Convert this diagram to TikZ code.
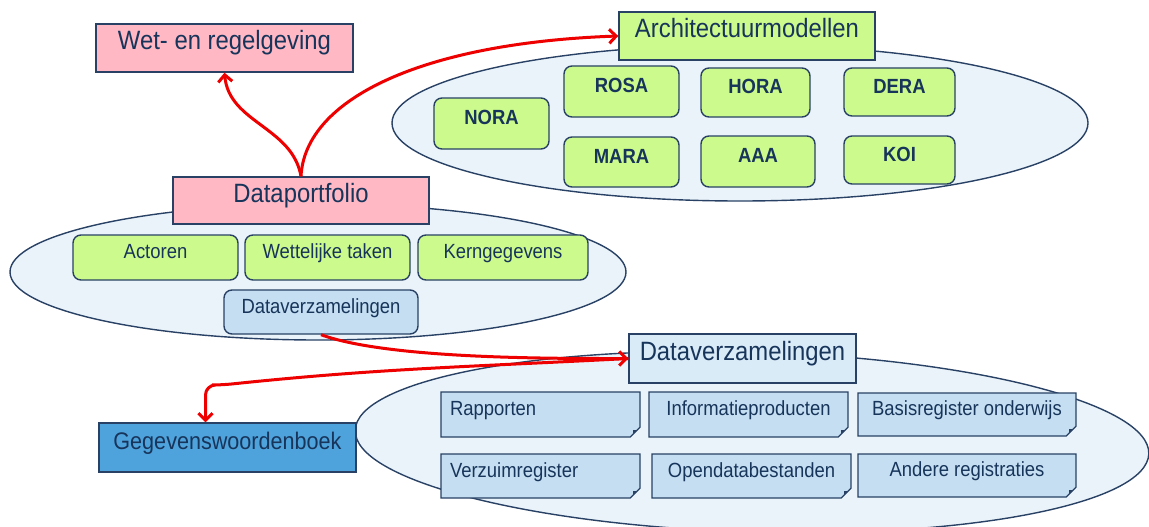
\documentclass[tikz,border=0pt]{standalone}
\usepackage{fontspec}
\setmainfont[FakeStretch=0.9]{Liberation Sans}
\usetikzlibrary{arrows.meta,shapes.misc}

\definecolor{linecol}{RGB}{40,65,100}
\definecolor{textcol}{RGB}{23,52,90}
\definecolor{pinkfill}{RGB}{255,184,196}
\definecolor{greenfill}{RGB}{205,250,140}
\definecolor{notefill}{RGB}{197,222,242}
\definecolor{dvfill}{RGB}{218,235,248}
\definecolor{wbfill}{RGB}{79,163,220}
\definecolor{ellfill}{RGB}{234,243,250}
\definecolor{arrowred}{RGB}{238,0,0}

\begin{document}
\begin{tikzpicture}[x=1pt,y=1pt,
    regbox/.style={draw=linecol, line width=1.4pt, inner sep=0pt, text=textcol,
      text height=.75em, text depth=.5em},
    bigbox/.style={regbox, font=\fontsize{26.5}{28}\selectfont, text depth=.35em},
    smallbox/.style={regbox, font=\fontsize{20.5}{22}\selectfont},
    modelbox/.style={smallbox, fill=greenfill, rounded corners=8pt,
      font=\fontsize{20.5}{22}\selectfont\bfseries},
    notebox/.style={smallbox, fill=notefill, chamfered rectangle,
      chamfered rectangle corners=south east, chamfered rectangle xsep=7pt,
      path picture={\fill[linecol] ([xshift=-7pt]path picture bounding box.south east)
        -- ([yshift=7pt]path picture bounding box.south east)
        -- ([shift={(-7pt,7pt)}]path picture bounding box.south east) -- cycle;}},
    ellipsefill/.style={draw=linecol, line width=1.4pt, fill=ellfill},
    redarrow/.style={draw=arrowred, line width=3pt, -{Straight Barb[length=7pt,width=14pt]}}]
  \useasboundingbox (0,0) rectangle (1149,-527);

  \draw[ellipsefill] (740,-123) ellipse [x radius=348, y radius=78];
  \draw[ellipsefill] (318,-272) ellipse [x radius=308, y radius=68];
  \draw[ellipsefill, rotate around={-1.7:(752,-442)}] (752,-442) ellipse [x radius=397, y radius=90];

  \node[bigbox, fill=pinkfill, minimum width=257, minimum height=48] (wet) at (224.5,-48) {Wet- en regelgeving};
  \node[bigbox, fill=greenfill, minimum width=256, minimum height=48] (arch) at (747,-36) {Architectuurmodellen};

  \node[modelbox, minimum width=115, minimum height=51] (nora) at (491.5,-123.5) {NORA};
  \node[modelbox, minimum width=115, minimum height=51] (rosa) at (621.5,-91.5) {ROSA};
  \node[modelbox, minimum width=109, minimum height=49] (hora) at (755.5,-92.5) {HORA};
  \node[modelbox, minimum width=111, minimum height=48] (dera) at (899.5,-92) {DERA};
  \node[modelbox, minimum width=115, minimum height=50] (mara) at (621.5,-162) {MARA};
  \node[modelbox, minimum width=114, minimum height=51] (aaa) at (758,-161.5) {AAA};
  \node[modelbox, minimum width=111, minimum height=48] (koi) at (899.5,-160) {KOI};

  \node[bigbox, fill=pinkfill, minimum width=256, minimum height=47] (portfolio) at (301,-200.5) {Dataportfolio};
  \node[smallbox, fill=greenfill, rounded corners=8pt, minimum width=165, minimum height=45] (actoren) at (155.5,-257.5) {Actoren};
  \node[smallbox, fill=greenfill, rounded corners=8pt, minimum width=165, minimum height=45] (taken) at (327.5,-257.5) {Wettelijke taken};
  \node[smallbox, fill=greenfill, rounded corners=8pt, minimum width=170, minimum height=45] (kern) at (503,-257.5) {Kerngegevens};
  \node[smallbox, fill=notefill, rounded corners=8pt, minimum width=194, minimum height=44] (dvsmall) at (321,-312) {Dataverzamelingen};

  \node[bigbox, fill=dvfill, minimum width=227, minimum height=49] (dvbig) at (742.5,-358.5) {Dataverzamelingen};
  \node[notebox, minimum width=199, minimum height=45, text width=181, align=left] (rapp) at (540.5,-414.5) {Rapporten};
  \node[notebox, minimum width=199, minimum height=45] (info) at (748.5,-414.5) {Informatieproducten};
  \node[notebox, minimum width=218, minimum height=43] (basis) at (967,-414.5) {Basisregister onderwijs};
  \node[notebox, minimum width=199, minimum height=44, text width=181, align=left] (verz) at (540.5,-476) {Verzuimregister};
  \node[notebox, minimum width=199, minimum height=44] (open) at (751.5,-476) {Opendatabestanden};
  \node[notebox, minimum width=218, minimum height=43] (andere) at (967,-475.5) {Andere registraties};

  \node[regbox, fill=wbfill, font=\fontsize{24}{26}\selectfont, text depth=.45em, minimum width=257, minimum height=49] (woordenboek) at (227.5,-447.5) {Gegevenswoordenboek};

  \draw[redarrow] (portfolio.north) to [out=100,in=-85] (wet.south);
  \draw[redarrow] (portfolio.north) to [out=87,in=182,out distance=78pt,in distance=195pt] (arch.west);
  \draw[redarrow] (dvsmall.south) to [out=-20,in=180,looseness=.6] (dvbig.west);
  \draw[redarrow, rounded corners=10pt] (dvbig.west) to [out=183,in=6] (222,-385) -| ([xshift=-22pt]woordenboek.north);
\end{tikzpicture}
\end{document}
